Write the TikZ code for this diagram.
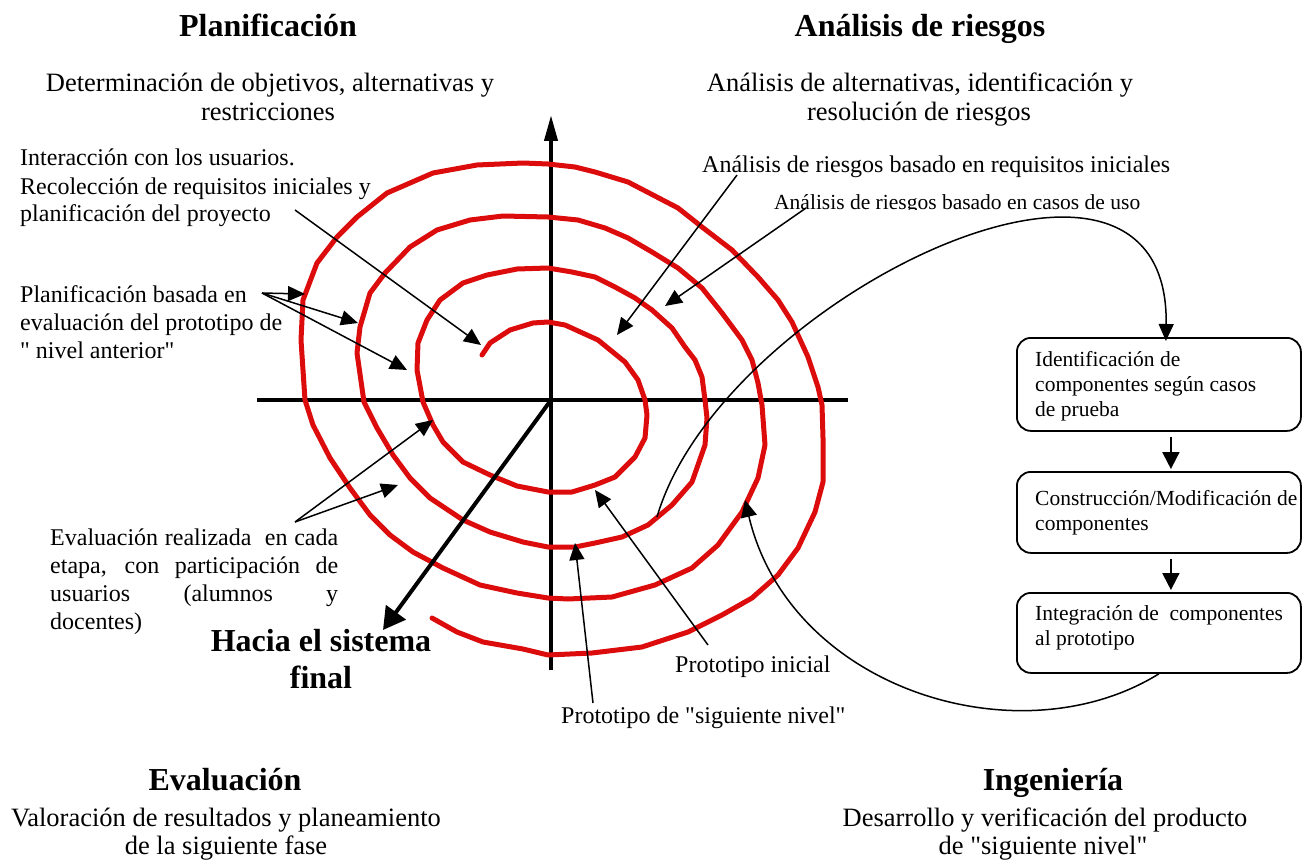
\documentclass[tikz,border=0pt]{standalone}
\usepackage{fontspec}
\setmainfont{Liberation Serif}[Ligatures=TeXOff]
\usetikzlibrary{arrows.meta}
\definecolor{spiralred}{RGB}{220,12,12}
\begin{document}
\begin{tikzpicture}[x=1pt,y=-1pt,
  title/.style={font=\fontsize{32}{37}\selectfont\bfseries, inner sep=0pt, anchor=base},
  sub/.style={font=\fontsize{26.5}{29}\selectfont, inner sep=0pt, anchor=base},
  lbl/.style={font=\fontsize{24}{28}\selectfont, inner sep=0pt, anchor=base west},
  boxtxt/.style={font=\fontsize{21.5}{25}\selectfont, inner sep=0pt, anchor=base west},
  stagebox/.style={draw, line width=1.8pt, rounded corners=14pt, minimum width=284pt, inner sep=0pt, anchor=north west},
  axisline/.style={line width=4pt},
  ptr/.style={line width=1.5pt, -{Triangle[length=17pt,width=15pt]}},
  boxarrow/.style={line width=2pt, -{Triangle[length=17pt,width=17pt]}, shorten <=5pt, shorten >=2pt},
  spiral/.style={line width=5pt, spiralred, line join=round, line cap=round},
]
\useasboundingbox (0,0) rectangle (1303,861);

% ---------- quadrant titles ----------
\node[title] (tPlan) at (268,37) {Planificación};
\node[sub] (sPlan1) at (270,92) {Determinación de objetivos, alternativas y};
\node[sub] (sPlan2) at (268,121) {restricciones};

\node[title] (tRies) at (920,37) {Análisis de riesgos};
\node[sub] (sRies1) at (920,92) {Análisis de alternativas, identificación y};
\node[sub] (sRies2) at (919,121) {resolución de riesgos};

\node[title] (tEval) at (225,790) {Evaluación};
\node[sub] (sEval1) at (226,826) {Valoración de resultados y planeamiento};
\node[sub] (sEval2) at (226,854) {de la siguiente fase};

\node[title] (tIng) at (1053,790) {Ingeniería};
\node[sub] (sIng1) at (1045,826) {Desarrollo y verificación del producto};
\node[sub] (sIng2) at (1043,854) {de "siguiente nivel"};

% ---------- axes ----------
\coordinate (O) at (551,400);
\coordinate (vb) at (551,670);
\coordinate (vt) at (551,115);
\coordinate (hl) at (257,400);
\coordinate (hr) at (848,400);
\draw[axisline] (hl) -- (hr);
\draw[axisline, -{Triangle[length=26pt,width=13pt]}] (vb) -- (vt);

% ---------- spiral ----------
\draw[spiral]
 (482,355) -- (490,343) -- (510,330) -- (533,323) -- (548,322) -- (565,325) -- (598,340) -- (625,362) -- (638,380) -- (645,400) -- (647,415) -- (645,438) -- (635,457) -- (615,477) -- (595,485) -- (572,492) -- (548,492) -- (517,486) -- (490,475) -- (463,462) -- (443,442) -- (433,425) -- (423,402)
 -- (417,370) -- (418,343) -- (427,320) -- (440,300) -- (463,283) -- (487,275) -- (517,269) -- (548,268) -- (572,272) -- (595,277) -- (615,287) -- (635,298) -- (652,310) -- (672,328) -- (685,347) -- (695,360) -- (702,377) -- (705,400) -- (707,418) -- (705,445) -- (692,482) -- (672,505) -- (648,525) -- (622,537) -- (595,543) -- (575,547) -- (548,547) -- (523,542) -- (490,532) -- (463,520) -- (430,498) -- (410,478) -- (393,455) -- (377,428) -- (364,402)
 -- (357,353) -- (360,327) -- (370,293) -- (385,273) -- (410,247) -- (437,230) -- (470,220) -- (503,216) -- (548,217) -- (578,220) -- (605,228) -- (628,238) -- (652,252) -- (678,268) -- (702,288) -- (722,313) -- (742,340) -- (752,360) -- (758,383) -- (762,405) -- (765,445) -- (758,478) -- (742,512) -- (718,545) -- (692,568) -- (655,585) -- (612,597) -- (568,599) -- (548,598) -- (517,593) -- (480,585) -- (443,568) -- (413,552) -- (390,535) -- (370,515) -- (350,488) -- (330,458) -- (313,425) -- (305,400)
 -- (301,340) -- (303,300) -- (317,263) -- (337,237) -- (357,217) -- (387,193) -- (433,173) -- (477,165) -- (523,163) -- (548,164) -- (575,167) -- (595,172) -- (628,182) -- (678,208) -- (702,227) -- (732,250) -- (758,277) -- (778,300) -- (792,322) -- (808,357) -- (818,387) -- (822,405) -- (823,438) -- (823,482) -- (815,512) -- (798,548) -- (778,575) -- (752,598) -- (722,615) -- (688,632) -- (642,647) -- (592,653) -- (548,655) -- (523,649) -- (483,642) -- (457,632) -- (432,618);

% ---------- towards final system ----------
\coordinate (hs) at (383,630);
\draw[line width=4pt, -{Triangle[length=22pt,width=24pt]}] (O) -- (hs);
\node[title] (hacia1) at (321,651) {Hacia el sistema};
\node[title] (hacia2) at (321,688) {final};

% ---------- left labels ----------
\node[lbl] (int1) at (20,166) {Interacción con los usuarios.};
\node[lbl] (int2) at (20,194) {Recolección de requisitos iniciales y};
\node[lbl] (int3) at (20,222) {planificación del proyecto};
\coordinate (intS) at (295,210);
\coordinate (intT) at (481,345);
\draw[ptr] (intS) -- (intT);

\node[lbl] (pb1) at (20,302) {Planificación basada en};
\node[lbl] (pb2) at (20,330) {evaluación del prototipo de};
\node[lbl] (pb3) at (20,358) {" nivel anterior"};
\coordinate (pbS) at (262,293);
\coordinate (pbT1) at (305,294);
\coordinate (pbT2) at (358,323);
\coordinate (pbT3) at (407,370);
\draw[ptr] (pbS) -- (pbT1);
\draw[ptr] (pbS) -- (pbT2);
\draw[ptr] (pbS) -- (pbT3);

\node[lbl] (ev1) at (50,545) {\makebox[288pt][s]{Evaluación realizada\ \ en cada}};
\node[lbl] (ev2) at (50,573) {\makebox[288pt][s]{etapa, con participación de}};
\node[lbl] (ev3) at (50,601) {\makebox[288pt][s]{usuarios (alumnos y}};
\node[lbl] (ev4) at (50,629) {docentes)};
\coordinate (evS) at (295,522);
\coordinate (evT1) at (433,420);
\coordinate (evT2) at (398,485);
\draw[ptr] (evS) -- (evT1);
\draw[ptr] (evS) -- (evT2);

% ---------- right labels ----------
\node[lbl] (ar1) at (702,173) {Análisis de riesgos basado en requisitos iniciales};
\begin{scope}
  \clip (760,180) rectangle (1200,209);
  \node[boxtxt] (ar2) at (774,210) {Análisis de riesgos basado en casos de uso};
\end{scope}
\coordinate (ar1S) at (737,175);
\coordinate (ar1T) at (617,335);
\coordinate (ar2S) at (806,208);
\coordinate (ar2T) at (665,306);
\draw[ptr] (ar1S) -- (ar1T);
\draw[ptr] (ar2S) -- (ar2T);

\node[lbl] (pi) at (675,672) {Prototipo inicial};
\node[lbl] (ps) at (561,723) {Prototipo de "siguiente nivel"};
\coordinate (piS) at (708,645);
\coordinate (piT) at (595,490);
\coordinate (psS) at (593,703);
\coordinate (psT) at (575,543);
\draw[ptr] (piS) -- (piT);
\draw[ptr] (psS) -- (psT);

% ---------- engineering boxes ----------
\node[stagebox, minimum height=93pt] (b1) at (1016,337) {};
\node[stagebox, minimum height=81pt] (b2) at (1016,471) {};
\node[stagebox, minimum height=80pt] (b3) at (1016,592) {};

\node[boxtxt] (b1a) at (1035,366) {Identificación de};
\node[boxtxt] (b1b) at (1035,391) {componentes según casos};
\node[boxtxt] (b1c) at (1035,416) {de prueba};
\node[boxtxt] (b2a) at (1035,505) {Construcción/Modificación de};
\node[boxtxt] (b2b) at (1035,530) {componentes};
\node[boxtxt] (b3a) at (1035,620) {Integración de\ \ componentes};
\node[boxtxt] (b3b) at (1035,645) {al prototipo};

\draw[boxarrow] ([xshift=12pt]b1.south) -- ([xshift=12pt]b2.north);
\draw[boxarrow] ([xshift=12pt]b2.south) -- ([xshift=12pt]b3.north);

% ---------- curved links spiral <-> boxes ----------
\coordinate (cS) at (657,517);
\draw[line width=1.5pt, -{Triangle[length=17pt,width=15pt]}]
  (cS) .. controls (720,300) and (1170,80) .. ([xshift=7pt,yshift=-4pt]b1.north);
\coordinate (rT) at (745,500);
\draw[line width=1.5pt, -{Triangle[length=17pt,width=16pt]}]
  (b3.south) .. controls (1020,760) and (790,690) .. (rT);

\end{tikzpicture}
\end{document}
